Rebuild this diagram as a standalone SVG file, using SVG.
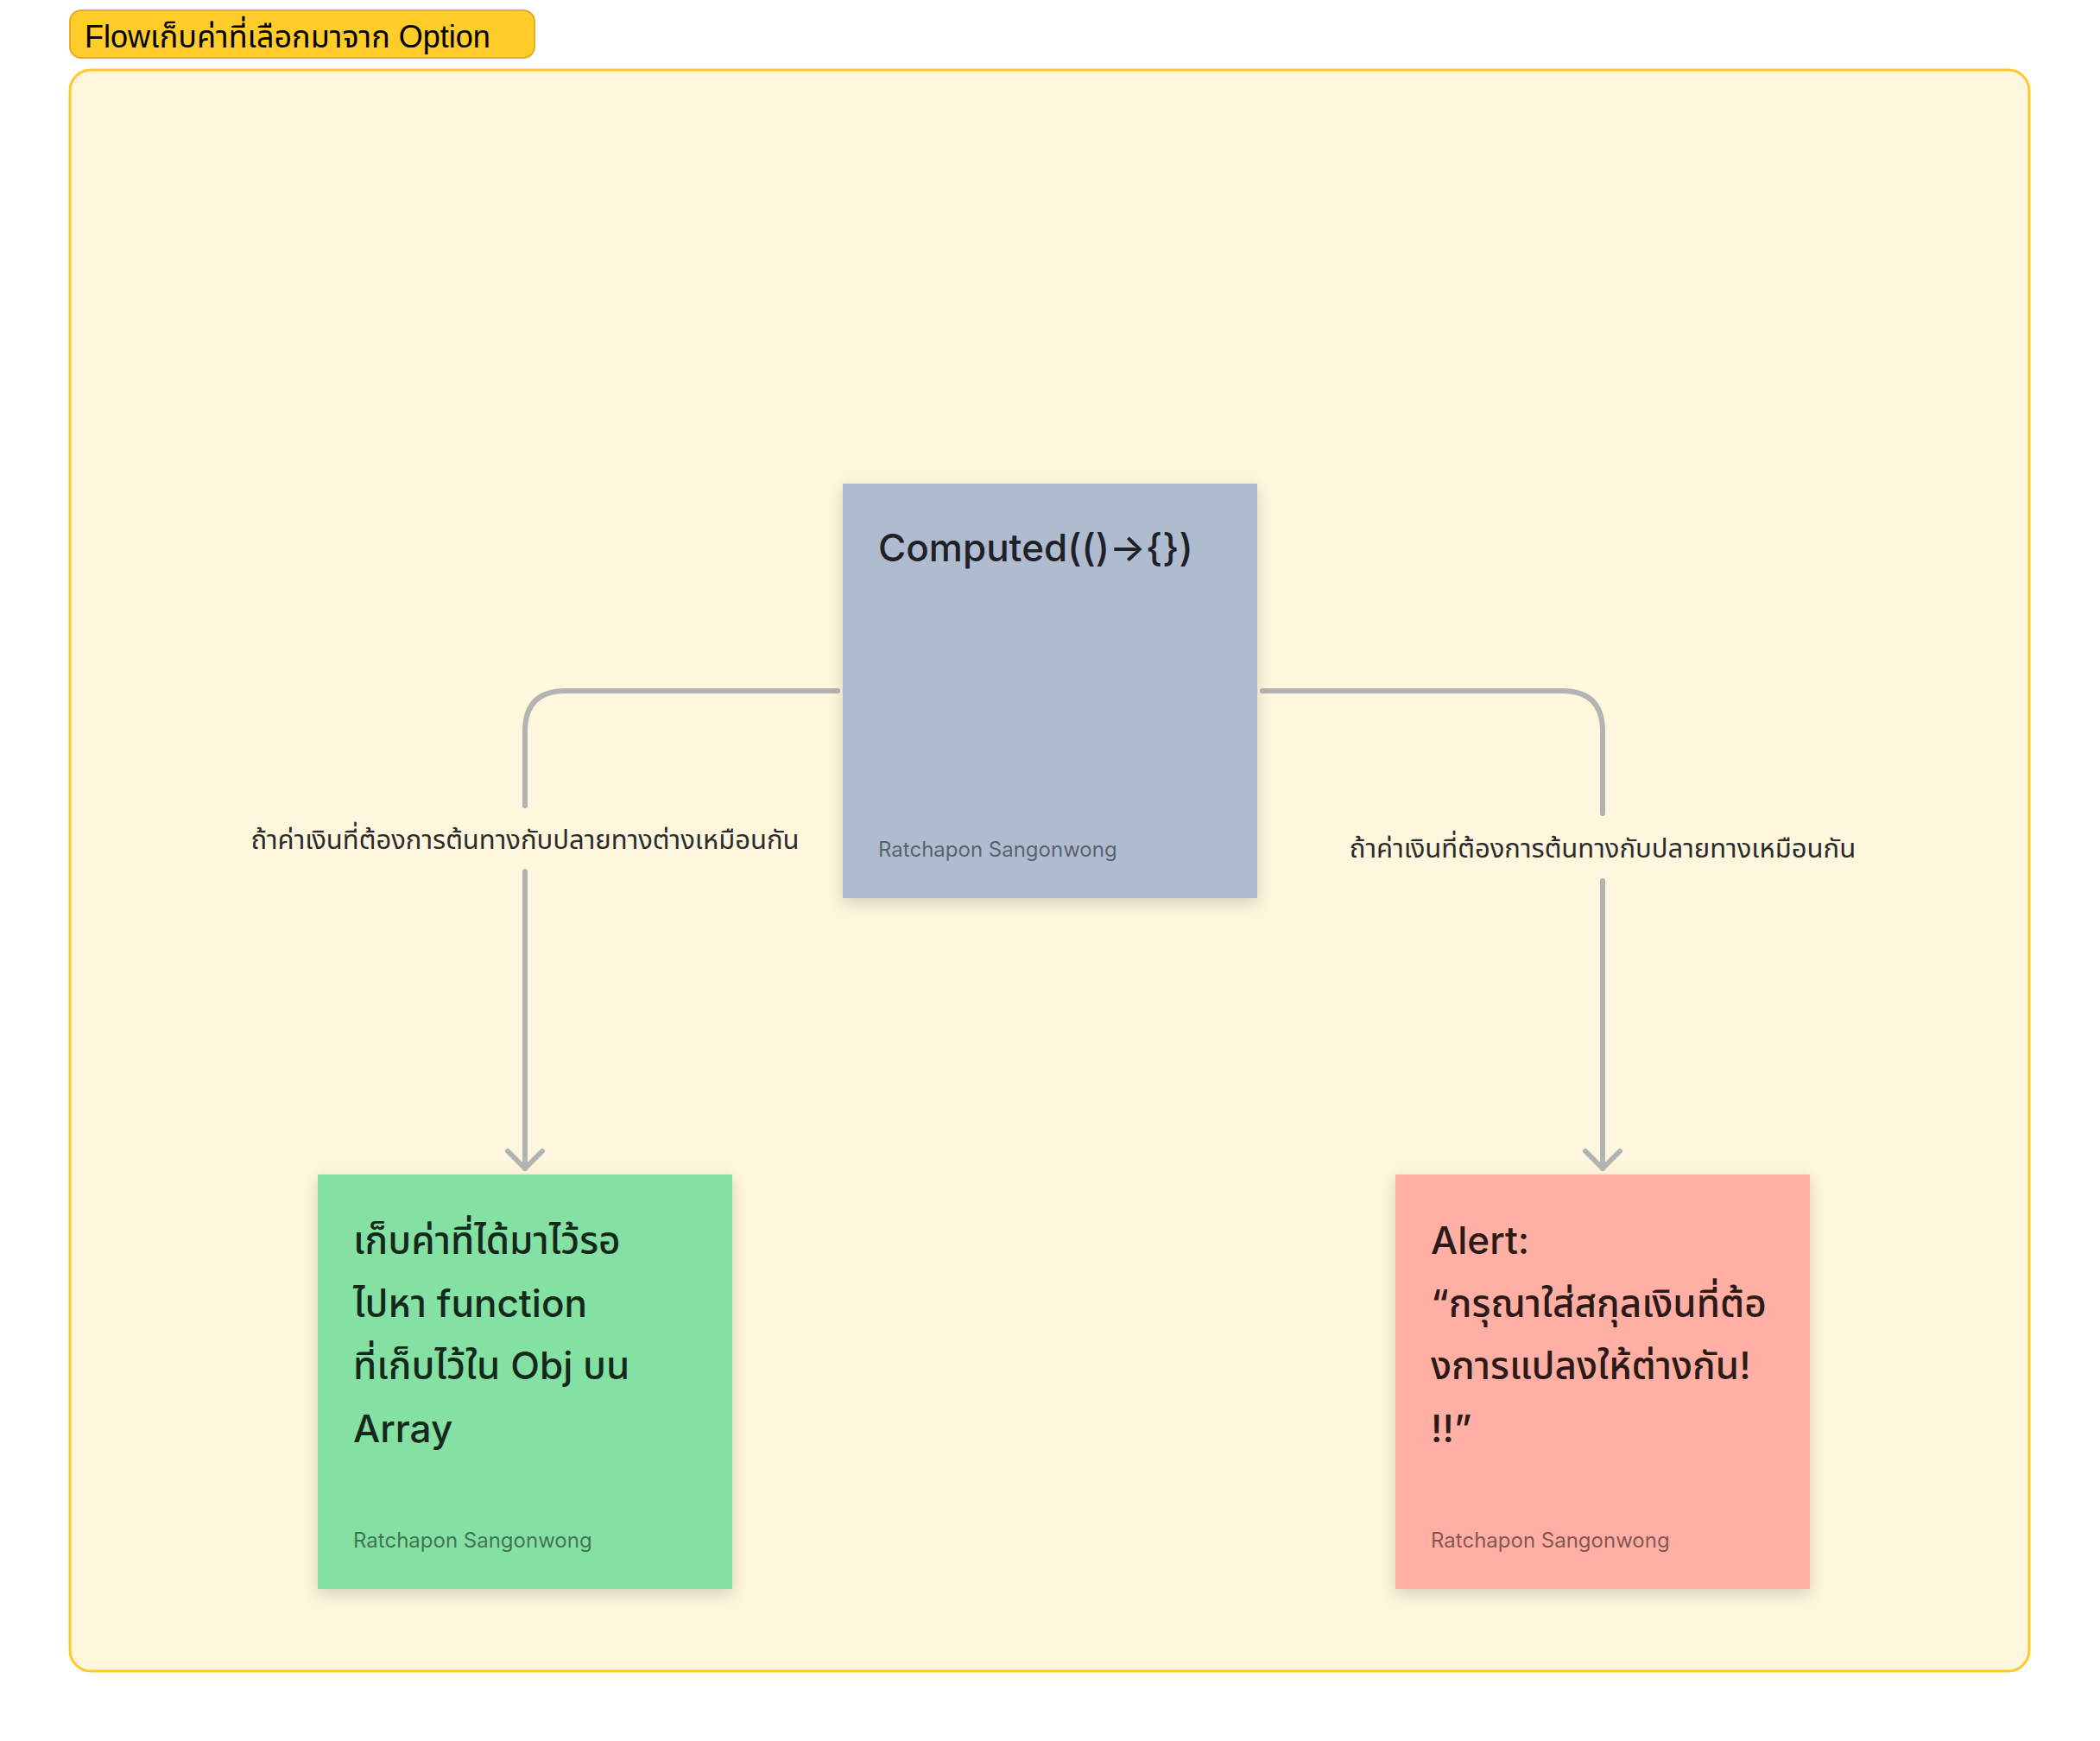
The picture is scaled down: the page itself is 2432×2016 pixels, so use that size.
<svg xmlns="http://www.w3.org/2000/svg" width="2432" height="2016" viewBox="0 0 2432 2016">
<defs>
<filter id="sh" x="-20%" y="-20%" width="140%" height="150%">
<feDropShadow dx="0" dy="6" stdDeviation="9" flood-color="#000" flood-opacity="0.16"/>
</filter>
<marker id="ah" viewBox="-24 -24 30 48" refX="0" refY="0" markerWidth="30" markerHeight="48" markerUnits="userSpaceOnUse" orient="auto">
<path d="M-20,-20 L0,0 L-20,20" fill="none" stroke="#b3b3b3" stroke-width="6" stroke-linecap="round" stroke-linejoin="round"/>
</marker>
<style>
.note{filter:url(#sh)}
.main{font-family:Inter,"Noto Sans Thai","Noto Sans",sans-serif;font-size:44px;font-weight:500}
.auth{font-family:Inter,"Noto Sans",sans-serif;font-size:24px}
.lbl{font-family:Inter,"Noto Sans Thai","Noto Sans",sans-serif;font-size:31px;fill:#2b2b2b;text-anchor:middle}
.conn{fill:none;stroke:#b3b3b3;stroke-width:6;stroke-linecap:round}
</style>
</defs>
<rect width="2432" height="2016" fill="#ffffff"/>
<g id="section">
<rect x="81" y="81" width="2269" height="1854" rx="24" fill="#fff6de" stroke="#ffc929" stroke-width="3"/>
<rect x="81" y="12" width="538" height="55" rx="13" fill="#ffcd29" stroke="#e3ad26" stroke-width="2"/>
<text x="98" y="55" font-family="'Liberation Sans','Noto Sans Thai',sans-serif" font-size="36" fill="#000">Flowเก็บค่าที่เลือกมาจาก Option</text>
</g>
<g id="connectors">
<path class="conn" d="M970,800 L655,800 Q608,800 608,847 L608,933"/>
<path class="conn" d="M608,1009 L608,1353" marker-end="url(#ah)"/>
<text class="lbl" x="608" y="983">ถ้าค่าเงินที่ต้องการต้นทางกับปลายทางต่างเหมือนกัน</text>
<path class="conn" d="M1462,800 L1809,800 Q1856,800 1856,847 L1856,942"/>
<path class="conn" d="M1856,1020 L1856,1353" marker-end="url(#ah)"/>
<text class="lbl" x="1856" y="993">ถ้าค่าเงินที่ต้องการต้นทางกับปลายทางเหมือนกัน</text>
</g>
<g id="computed">
<rect class="note" x="976" y="560" width="480" height="480" fill="#afbccf"/>
<text class="main" x="1017" y="650" fill="#1e2228">Computed(()→{})</text>
<text class="auth" x="1017" y="992" fill="#1e2228" fill-opacity="0.6">Ratchapon Sangonwong</text>
</g>
<g id="store">
<rect class="note" x="368" y="1360" width="480" height="480" fill="#85e0a3"/>
<text class="main" fill="#14291b">
<tspan x="409" y="1452">เก็บค่าที่ได้มาไว้รอ</tspan>
<tspan x="409" y="1525">ไปหา function</tspan>
<tspan x="409" y="1597">ที่เก็บไว้ใน Obj บน</tspan>
<tspan x="409" y="1670">Array</tspan>
</text>
<text class="auth" x="409" y="1792" fill="#14291b" fill-opacity="0.6">Ratchapon Sangonwong</text>
</g>
<g id="alert">
<rect class="note" x="1616" y="1360" width="480" height="480" fill="#ffafa3"/>
<text class="main" fill="#2b1a17">
<tspan x="1657" y="1452">Alert:</tspan>
<tspan x="1657" y="1525">“กรุณาใส่สกุลเงินที่ต้อ</tspan>
<tspan x="1657" y="1597">งการแปลงให้ต่างกัน!</tspan>
<tspan x="1657" y="1670">!!”</tspan>
</text>
<text class="auth" x="1657" y="1792" fill="#2b1a17" fill-opacity="0.6">Ratchapon Sangonwong</text>
</g>
</svg>
